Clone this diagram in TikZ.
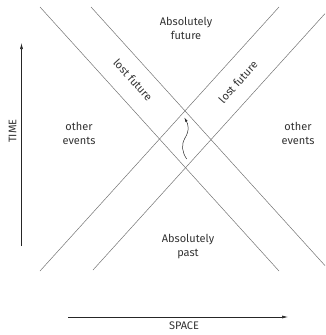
\documentclass[tikz,border=0pt]{standalone}
\usepackage{fontspec}
\setmainfont{Fira Sans}
\usetikzlibrary{arrows.meta}

\begin{document}
\begin{tikzpicture}[x=1pt, y=-1pt,
  coneline/.style={draw=black!55, line width=0.5pt},
  axis/.style={-{Latex[length=6pt, width=3pt]}, line width=0.6pt, draw=black!85},
  region/.style={align=center, font=\fontsize{11}{14}\selectfont, text=black!80, inner sep=1pt},
]
\useasboundingbox (0,0) rectangle (325,335);

% ends of the four lines
\coordinate (fallA0) at (40,7);
\coordinate (fallA1) at (279,271);
\coordinate (fallB0) at (91,7);
\coordinate (fallB1) at (325,265.6);
\coordinate (riseA0) at (40,271);
\coordinate (riseA1) at (279,7);
\coordinate (riseB0) at (93,270);
\coordinate (riseB1) at (325,13.6);

\draw[coneline] (fallA0) -- (fallA1);
\draw[coneline] (fallB0) -- (fallB1);
\draw[coneline] (riseA0) -- (riseA1);
\draw[coneline] (riseB0) -- (riseB1);

% axes
\coordinate (time0) at (21.5,246);
\coordinate (time1) at (21.5,43);
\coordinate (space0) at (68,317);
\coordinate (space1) at (288,317);
\draw[axis] (time0) -- (time1);
\draw[axis] (space0) -- (space1);
\node[region, rotate=90] (timelbl) at (12.5,131) {TIME};
\node[region] (spacelbl) at (184,325.5) {SPACE};

% regions
\node[region] (future) at (186,28.5) {Absolutely\\future};
\node[region] (past) at (188,246.5) {Absolutely\\past};
\node[region] (otherL) at (79,133.5) {other\\events};
\node[region] (otherR) at (298,133.5) {other\\events};
\node[region, rotate=-48] (lostL) at (133,80) {lost future};
\node[region, rotate=48] (lostR) at (238,82) {lost future};

% world line
\coordinate (wl0) at (186.7,159);
\coordinate (wl1) at (184.3,117.5);
\draw[-{Latex[length=4.5pt, width=2.5pt]}, line width=0.5pt, black!85]
  (wl0) .. controls (182,152) and (181,145) .. (185,138)
  .. controls (190,130) and (188,124) .. (wl1);
\end{tikzpicture}
\end{document}
